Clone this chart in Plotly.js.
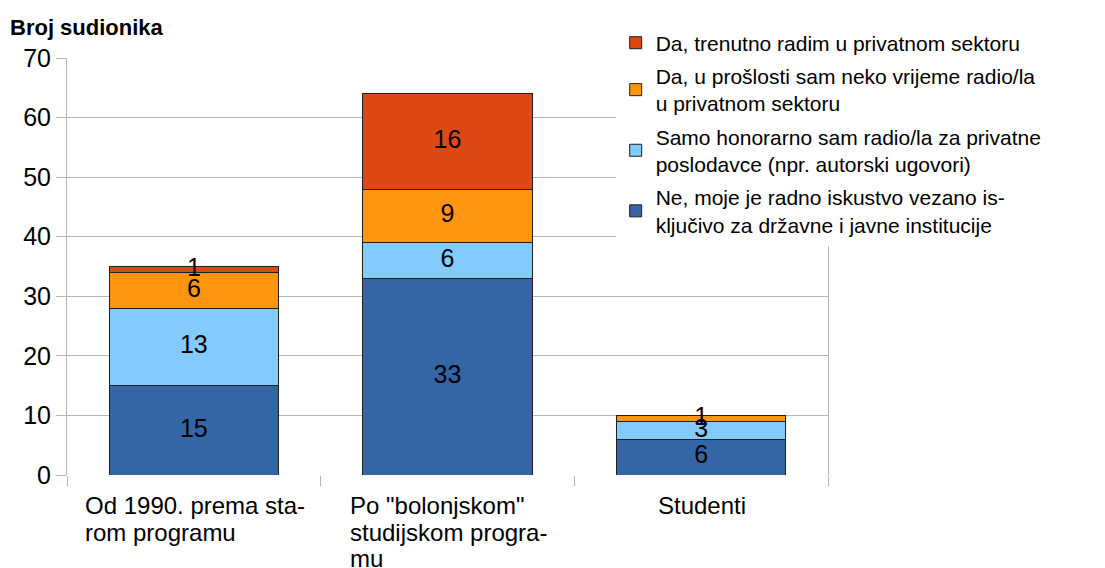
<!DOCTYPE html>
<html>
<head>
<meta charset="utf-8">
<script src="https://cdn.plot.ly/plotly-3.0.1.min.js"></script>
<style>html,body{margin:0;padding:0;background:#fff;}#chart{width:1105px;height:568px;}</style>
</head>
<body>
<div id="chart"></div>
<script>
const categories = ["Od 1990. prema starom programu", "Po \"bolonjskom\" studijskom programu", "Studenti"];
const categoryLabels = ["Od 1990. prema sta-<br>rom programu", "Po \"bolonjskom\"<br>studijskom progra-<br>mu", "Studenti"];
const seriesNames = [
  "Ne, moje je radno iskustvo vezano is-<br>ključivo za državne i javne institucije",
  "Samo honorarno sam radio/la za privatne<br>poslodavce (npr. autorski ugovori)",
  "Da, u prošlosti sam neko vrijeme radio/la<br>u privatnom sektoru",
  "Da, trenutno radim u privatnom sektoru"
];
const valuesNe = [15, 33, 6];
const valuesHonorarno = [13, 6, 3];
const valuesProslost = [6, 9, 1];
const valuesTrenutno = [1, 16, 0];
const seriesColors = ["#3465a4", "#83caff", "#ff950e", "#dd4814"];
const yTitle = "Broj sudionika";

const seriesValues = [valuesNe, valuesHonorarno, valuesProslost, valuesTrenutno];
const FONT = "Liberation Sans, Arial, sans-serif";
const XLAB_SIZE = 24;
const XLAB_LINE = 26.7;

const traces = [];
seriesValues.forEach((vals, i) => {
  traces.push({
    type: "bar",
    x: categories,
    y: vals,
    name: seriesNames[i],
    legendgroup: "g" + i,
    legendrank: seriesValues.length - i,
    width: 0.667,
    marker: {color: seriesColors[i], line: {color: "#1f1f1f", width: 1}},
    hoverinfo: "skip"
  });
});

// value labels at segment midpoints
const lx = [], ly = [], lt = [];
categories.forEach((c, j) => {
  let base = 0;
  seriesValues.forEach(vals => {
    const v = vals[j];
    if (v > 0) {
      lx.push(c); ly.push(base + v / 2); lt.push(String(v));
    }
    base += v;
  });
});
traces.push({
  type: "scatter", mode: "text", x: lx, y: ly, text: lt,
  textposition: "middle center",
  textfont: {family: FONT, size: 25, color: "#000"},
  showlegend: false, hoverinfo: "skip", cliponaxis: false
});

// category labels: left-aligned block centred under each category, tight line spacing
const ctx = document.createElement("canvas").getContext("2d");
ctx.font = XLAB_SIZE + "px 'Liberation Sans', Arial, sans-serif";
const annotations = [];
categoryLabels.forEach((t, j) => {
  const lines = t.split("<br>");
  const blockW = Math.max(...lines.map(s => ctx.measureText(s).width));
  lines.forEach((s, k) => {
    annotations.push({
      x: categories[j], xref: "x", xanchor: "left", xshift: -blockW / 2,
      y: 0, yref: "paper", yanchor: "top", yshift: -16 - k * XLAB_LINE,
      text: s, showarrow: false, borderpad: 0,
      font: {family: FONT, size: XLAB_SIZE, color: "#000"}
    });
  });
});
annotations.push({
  x: -0.0775, xref: "paper", xanchor: "left",
  y: 1.0743, yref: "paper", yanchor: "middle",
  text: "<b>" + yTitle + "</b>", showarrow: false,
  font: {family: FONT, size: 22, color: "#000"}
});

const layout = {
  width: 1105, height: 568,
  margin: {l: 67, r: 277, t: 58, b: 93},
  paper_bgcolor: "#fff", plot_bgcolor: "#fff",
  barmode: "stack",
  font: {family: FONT, color: "#000"},
  showlegend: true,
  legend: {
    x: 0.721, xanchor: "left", y: 1.085, yanchor: "top",
    bgcolor: "#fff", traceorder: "grouped", tracegroupgap: 3,
    font: {family: FONT, size: 21, color: "#000"}
  },
  xaxis: {
    type: "category", range: [-0.5, 2.5],
    showticklabels: false, ticks: "outside", tickson: "boundaries",
    ticklen: 10, tickcolor: "#b3b3b3", showgrid: false,
    showline: false, zeroline: false, fixedrange: true
  },
  yaxis: {
    range: [0, 70], dtick: 10, tick0: 0,
    ticks: "outside", ticklen: 10, tickcolor: "#b3b3b3",
    showline: true, linecolor: "#b3b3b3", linewidth: 1, mirror: true,
    gridcolor: "#b3b3b3", gridwidth: 1, zeroline: false,
    tickfont: {family: FONT, size: 25, color: "#000"},
    fixedrange: true
  },
  annotations: annotations
};

Plotly.newPlot("chart", traces, layout, {staticPlot: true, displayModeBar: false});
</script>
</body>
</html>
